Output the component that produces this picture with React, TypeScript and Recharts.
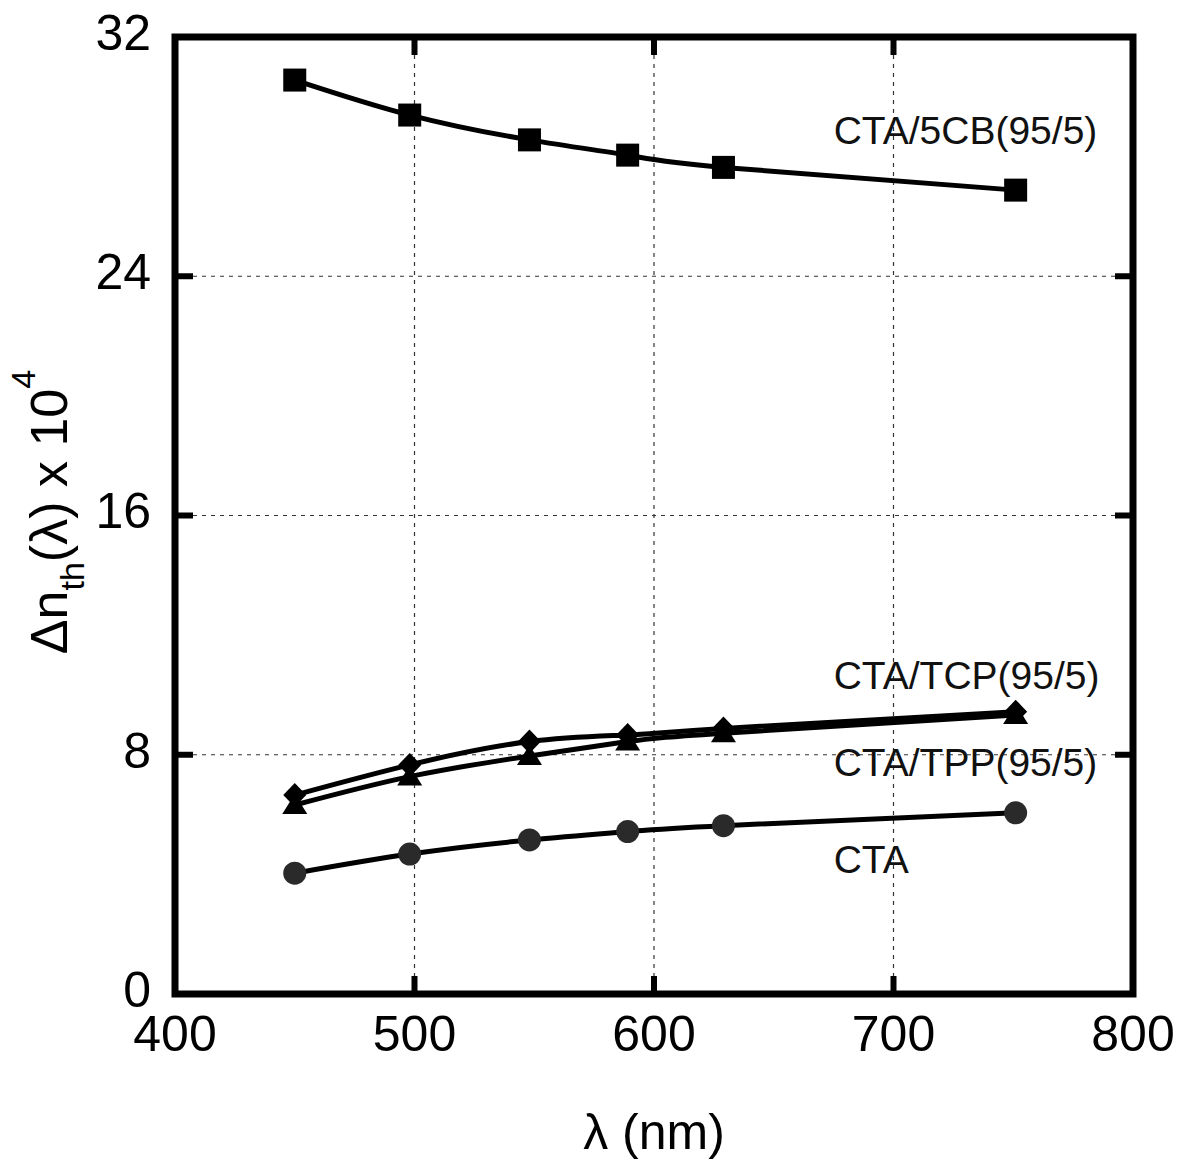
import React from 'react';
import {
  ComposedChart,
  Line,
  XAxis,
  YAxis,
  CartesianGrid,
  ReferenceArea,
  ReferenceDot,
} from 'recharts';

// ---- data ----
const wavelengths = [450, 498, 548, 589, 629, 751];
const cta5cb = [30.56, 29.39, 28.56, 28.05, 27.64, 26.88];
const ctaTcp = [6.65, 7.66, 8.44, 8.66, 8.88, 9.44];
const ctaTpp = [6.32, 7.27, 7.96, 8.44, 8.72, 9.33];
const ctaPure = [4.04, 4.68, 5.15, 5.43, 5.63, 6.06];
const xTicks = [400, 500, 600, 700, 800];
const yTicks = [0, 8, 16, 24, 32];
const seriesNames = ['CTA/5CB(95/5)', 'CTA/TCP(95/5)', 'CTA/TPP(95/5)', 'CTA'];

const data = wavelengths.map((w, i) => ({
  w,
  s5cb: cta5cb[i],
  tcp: ctaTcp[i],
  tpp: ctaTpp[i],
  cta: ctaPure[i],
}));

const FONT = '"Liberation Sans", Arial, Helvetica, sans-serif';

const SquareDot = (p: any) =>
  p.cx == null ? <g key={p.key} /> : (
    <rect key={p.key} x={p.cx - 11.5} y={p.cy - 11.5} width={23} height={23} fill="#000" />
  );
const CircleDot = (p: any) =>
  p.cx == null ? <g key={p.key} /> : <circle key={p.key} cx={p.cx} cy={p.cy} r={11.5} fill="#2a2a2a" />;
const DiamondDot = (p: any) =>
  p.cx == null ? <g key={p.key} /> : (
    <polygon
      key={p.key}
      points={`${p.cx},${p.cy - 12} ${p.cx + 11.5},${p.cy} ${p.cx},${p.cy + 12} ${p.cx - 11.5},${p.cy}`}
      fill="#000"
    />
  );
const TriangleDot = (p: any) =>
  p.cx == null ? <g key={p.key} /> : (
    <polygon
      key={p.key}
      points={`${p.cx},${p.cy - 11} ${p.cx + 12.5},${p.cy + 9} ${p.cx - 12.5},${p.cy + 9}`}
      fill="#000"
    />
  );

const EmptyTick = () => <g />;

const makeSeriesLabel = (text: string) => (props: any) => {
  const vb = props.viewBox || {};
  return (
    <text x={vb.x} y={vb.y + 14} fontSize={39} fontFamily={FONT} fill="#111" textAnchor="start">
      {text}
    </text>
  );
};

const YTitle = () => (
  <text
    x={67}
    y={512}
    transform="rotate(-90 67 512)"
    textAnchor="middle"
    fontFamily={FONT}
    fontSize={52}
    fill="#000"
  >
    <tspan>Δn</tspan>
    <tspan fontSize={34} dy={17}>th</tspan>
    <tspan fontSize={52} dy={-17}>(λ) x 10</tspan>
    <tspan fontSize={34} dy={-32}>4</tspan>
  </text>
);

const XTitle = (props: any) => {
  const vb = props.viewBox || { x: 175, width: 958, y: 994 };
  return (
    <text
      x={vb.x + vb.width / 2}
      y={1149}
      textAnchor="middle"
      fontFamily={FONT}
      fontSize={50}
      fill="#000"
    >
      λ (nm)
    </text>
  );
};

const tickLineStyle = { stroke: '#000', strokeWidth: 6 };

export default function App() {
  return (
    <div style={{ position: 'absolute', left: 0, top: 0, width: 1182, height: 1163, background: '#fff' }}>
      <ComposedChart
        width={1182}
        height={1163}
        data={data}
        margin={{ top: 37, right: 49, bottom: 0, left: 0 }}
      >
        <CartesianGrid stroke="#333" strokeWidth={1.2} strokeDasharray="4 5" />
        <XAxis
          xAxisId={0}
          dataKey="w"
          type="number"
          domain={[400, 800]}
          ticks={xTicks}
          allowDataOverflow
          height={169}
          axisLine={false}
          tickLine={false}
          tickSize={0}
          tickMargin={21}
          tick={{ fontSize: 50, fontFamily: FONT, fill: '#000' }}
          label={<XTitle />}
        />
        <XAxis
          xAxisId="bt"
          dataKey="w"
          type="number"
          domain={[400, 800]}
          ticks={xTicks}
          allowDataOverflow
          orientation="bottom"
          mirror
          axisLine={false}
          tick={EmptyTick}
          tickSize={18}
          tickLine={tickLineStyle}
        />
        <XAxis
          xAxisId="tp"
          dataKey="w"
          type="number"
          domain={[400, 800]}
          ticks={xTicks}
          allowDataOverflow
          orientation="top"
          mirror
          axisLine={false}
          tick={EmptyTick}
          tickSize={18}
          tickLine={tickLineStyle}
        />
        <YAxis
          yAxisId={0}
          type="number"
          domain={[0, 32]}
          ticks={yTicks}
          allowDataOverflow
          width={175}
          axisLine={false}
          tickLine={false}
          tickSize={0}
          tickMargin={24}
          tick={{ fontSize: 50, fontFamily: FONT, fill: '#000', dy: -5 }}
          label={<YTitle />}
        />
        <YAxis
          yAxisId="lt"
          type="number"
          domain={[0, 32]}
          ticks={yTicks}
          allowDataOverflow
          orientation="left"
          mirror
          axisLine={false}
          tick={EmptyTick}
          tickSize={18}
          tickLine={tickLineStyle}
        />
        <YAxis
          yAxisId="rt"
          type="number"
          domain={[0, 32]}
          ticks={yTicks}
          allowDataOverflow
          orientation="right"
          mirror
          axisLine={false}
          tick={EmptyTick}
          tickSize={18}
          tickLine={tickLineStyle}
        />

        <Line
          dataKey="cta"
          type="natural"
          stroke="#000"
          strokeWidth={5}
          dot={CircleDot}
          activeDot={false}
          isAnimationActive={false}
        />
        <Line
          dataKey="tpp"
          type="natural"
          stroke="#000"
          strokeWidth={5}
          dot={TriangleDot}
          activeDot={false}
          isAnimationActive={false}
        />
        <Line
          dataKey="tcp"
          type="natural"
          stroke="#000"
          strokeWidth={5}
          dot={DiamondDot}
          activeDot={false}
          isAnimationActive={false}
        />
        <Line
          dataKey="s5cb"
          type="natural"
          stroke="#000"
          strokeWidth={5}
          dot={SquareDot}
          activeDot={false}
          isAnimationActive={false}
        />

        <ReferenceArea
          x1={400}
          x2={800}
          y1={0}
          y2={32}
          fill="none"
          fillOpacity={0}
          stroke="#000"
          strokeWidth={7}
          strokeOpacity={1}
          ifOverflow="visible"
        />

        <ReferenceDot x={675} y={28.89} r={0} shape={() => <g />} ifOverflow="visible" label={{ content: makeSeriesLabel(seriesNames[0]) }} />
        <ReferenceDot x={675} y={10.67} r={0} shape={() => <g />} ifOverflow="visible" label={{ content: makeSeriesLabel(seriesNames[1]) }} />
        <ReferenceDot x={675} y={7.76} r={0} shape={() => <g />} ifOverflow="visible" label={{ content: makeSeriesLabel(seriesNames[2]) }} />
        <ReferenceDot x={675} y={4.53} r={0} shape={() => <g />} ifOverflow="visible" label={{ content: makeSeriesLabel(seriesNames[3]) }} />
      </ComposedChart>
    </div>
  );
}
